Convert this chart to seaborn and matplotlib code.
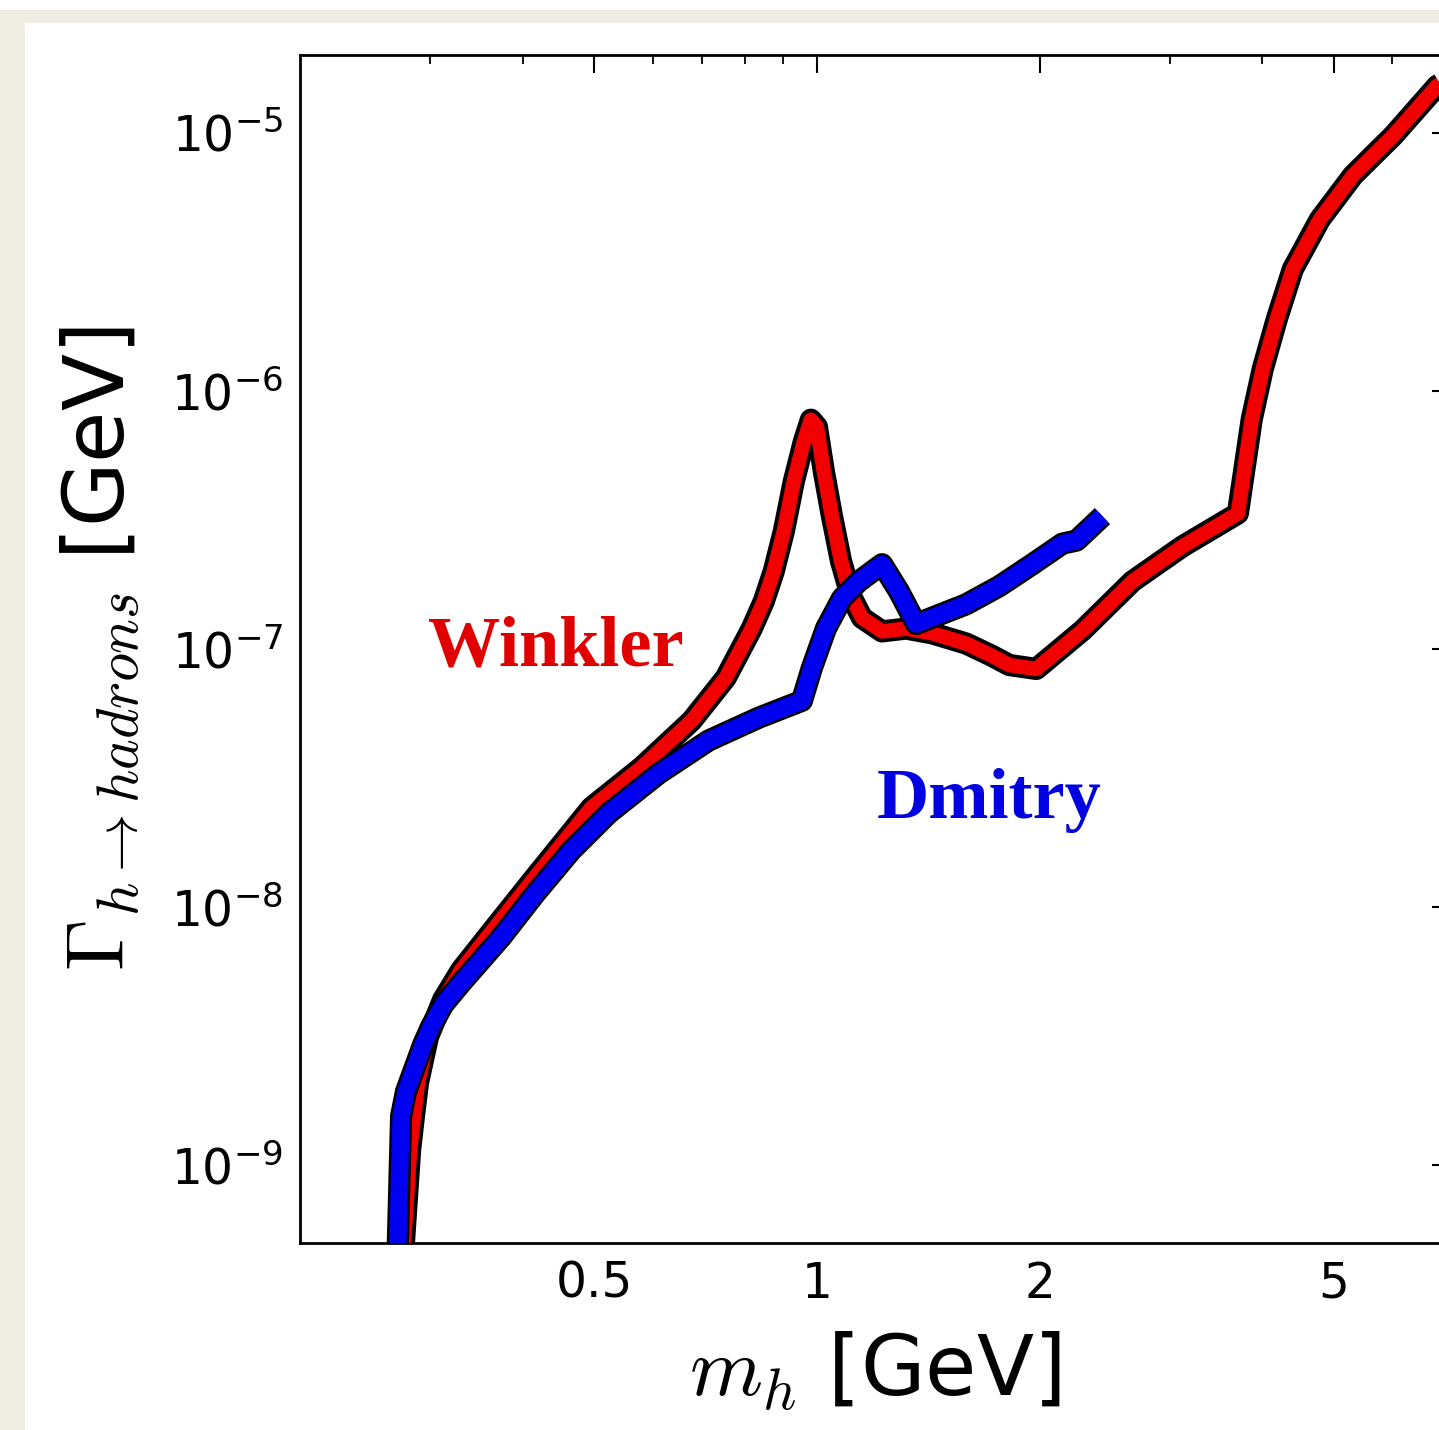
import numpy as np
import pandas as pd
import matplotlib
matplotlib.use("Agg")
import matplotlib.pyplot as plt
import matplotlib.patheffects as pe
from matplotlib.patches import Rectangle
from matplotlib.ticker import NullFormatter, LogLocator
import seaborn as sns

# ---------------- data ----------------
winkler_m = [0.274, 0.2764, 0.2818, 0.2853, 0.2888, 0.2980, 0.3123, 0.3304, 0.3673, 0.4161,
             0.4955, 0.5793, 0.6769, 0.7528, 0.8164, 0.8476, 0.8743, 0.9022, 0.9307,
             0.9602, 0.9815, 1.000, 1.022, 1.048, 1.078, 1.112, 1.1509, 1.2249, 1.3202,
             1.4318, 1.5916, 1.7262, 1.820, 1.980, 2.286, 2.672, 3.123, 3.709, 3.874,
             4.009, 4.188, 4.401, 4.787, 5.308, 6.014, 6.90, 7.41]
winkler_g = [3.0e-10, 5.0e-10, 1.15e-9, 1.57e-9, 2.09e-9, 3.15e-9, 4.38e-9, 5.71e-9, 8.37e-9, 1.31e-8,
             2.43e-8, 3.48e-8, 5.27e-8, 7.73e-8, 1.20e-7, 1.53e-7, 2.00e-7, 2.86e-7, 4.46e-7,
             6.36e-7, 7.73e-7, 7.26e-7, 4.86e-7, 3.27e-7, 2.19e-7, 1.60e-7, 1.32e-7, 1.17e-7, 1.20e-7,
             1.15e-7, 1.05e-7, 9.40e-8, 8.67e-8, 8.37e-8, 1.18e-7, 1.83e-7, 2.50e-7, 3.35e-7, 7.80e-7,
             1.22e-6, 1.90e-6, 2.96e-6, 4.61e-6, 6.83e-6, 9.73e-6, 1.52e-5, 1.71e-5]

dmitry_m = [0.2700, 0.2740, 0.2782, 0.2862, 0.2934, 0.3008, 0.3123, 0.3304, 0.3743, 0.4161,
            0.4656, 0.5228, 0.6108, 0.7138, 0.8346, 0.9544, 0.9845, 1.0285, 1.0811, 1.1401,
            1.2249, 1.2913, 1.3617, 1.5916, 1.764, 1.956, 2.148, 2.244, 2.433]
dmitry_g = [3.0e-10, 1.55e-9, 1.93e-9, 2.41e-9, 2.93e-9, 3.44e-9, 4.19e-9, 5.09e-9, 7.66e-9, 1.13e-8,
            1.66e-8, 2.31e-8, 3.29e-8, 4.42e-8, 5.42e-8, 6.30e-8, 8.45e-8, 1.20e-7, 1.57e-7, 1.83e-7,
            2.13e-7, 1.67e-7, 1.25e-7, 1.49e-7, 1.75e-7, 2.13e-7, 2.56e-7, 2.63e-7, 3.27e-7]

x_major = [0.5, 1, 2, 5]
x_major_labels = ["0.5", "1", "2", "5"]
x_minor = [0.3, 0.4, 0.6, 0.7, 0.8, 0.9, 3, 4, 6, 7]

# ---------------- style ----------------
sns.set_theme(style="white")
plt.rcParams["font.family"] = ["DejaVu Sans"]
plt.rcParams["mathtext.fontset"] = "cm"

W, H = 1439, 1430
fig = plt.figure(figsize=(W / 100, H / 100), dpi=100)
fig.patch.set_facecolor("white")
beige = "#efece4"
fig.patches.append(Rectangle((0, 0), 1, (H - 10) / H, transform=fig.transFigure,
                             facecolor=beige, edgecolor="none", zorder=-10))
fig.patches.append(Rectangle((25 / W, 0), 1, (H - 23) / H, transform=fig.transFigure,
                             facecolor="white", edgecolor="none", zorder=-9))

ax = fig.add_axes([300 / W, (H - 1243) / H, (1450 - 300) / W, (1243 - 55) / H])
ax.set_facecolor("white")

dfw = pd.DataFrame({"m": winkler_m, "g": winkler_g})
dfd = pd.DataFrame({"m": dmitry_m, "g": dmitry_g})

sns.lineplot(data=dfw, x="m", y="g", ax=ax, color="#f20000", lw=10.5,
             path_effects=[pe.Stroke(linewidth=16, foreground="black"), pe.Normal()],
             solid_capstyle="butt", solid_joinstyle="round", zorder=3)
sns.lineplot(data=dfd, x="m", y="g", ax=ax, color="#0000f0", lw=12.5,
             path_effects=[pe.Stroke(linewidth=16, foreground="black"), pe.Normal()],
             solid_capstyle="butt", solid_joinstyle="round", zorder=4)

ax.set_xscale("log")
ax.set_yscale("log")
ax.set_xlim(0.2, 7.18)
ax.set_ylim(5e-10, 2e-5)

ax.set_xticks(x_major)
ax.set_xticklabels(x_major_labels)
ax.set_xticks(x_minor, minor=True)
ax.xaxis.set_minor_formatter(NullFormatter())
ax.yaxis.set_major_locator(LogLocator(base=10, numticks=15))
ax.yaxis.set_minor_locator(LogLocator(base=10, subs=np.arange(2, 10), numticks=15))
ax.yaxis.set_minor_formatter(NullFormatter())

ax.tick_params(which="both", direction="in", top=True, right=True, color="black",
               labelcolor="black")
ax.tick_params(which="major", length=13, width=1.5, labelsize=35, pad=12)
ax.tick_params(which="minor", length=6.5, width=1.3)
for s in ax.spines.values():
    s.set_linewidth(2.0)
    s.set_color("black")
    s.set_visible(True)

ax.set_xlabel(r"$m_h$ [GeV]", fontsize=60, labelpad=16, color="black")
ax.set_ylabel(r"$\Gamma_{h\to hadrons}$ [GeV]", fontsize=60, labelpad=21, color="black")

ax.text(0.443, 8.6e-8, "Winkler", color="#e00000", fontsize=52, fontweight="bold",
        family=["Liberation Serif"], ha="center", va="baseline", zorder=5)
ax.text(1.71, 2.22e-8, "Dmitry", color="#0000e0", fontsize=52, fontweight="bold",
        family=["Liberation Serif"], ha="center", va="baseline", zorder=5)

fig.savefig("out.png", dpi=100, facecolor=fig.get_facecolor())
